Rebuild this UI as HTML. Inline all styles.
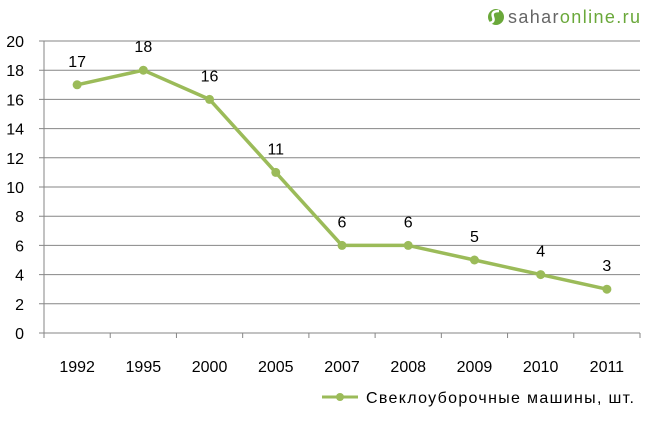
<!DOCTYPE html>
<html><head><meta charset="utf-8"><style>
body{margin:0;background:#fff;width:650px;height:418px;overflow:hidden;font-family:"Liberation Sans",sans-serif}
</style></head><body>
<svg width="650" height="418" xmlns="http://www.w3.org/2000/svg">
<g>
<circle cx="496" cy="17" r="8" fill="#6aa83a"/>
<path d="M499 11 Q491 11 493 17 Q495 22 490 23" stroke="#fff" stroke-width="2.5" fill="none"/>
<text x="508" y="23" font-size="18" fill="#666" textLength="132">sahar<tspan fill="#6aa83a">online.ru</tspan></text>
</g>
<g id="grid"></g><g id="axes"></g><g id="series"></g>
<g>
<line x1="322" y1="397" x2="358" y2="397" stroke="#9bbb59" stroke-width="3"/>
<circle cx="340" cy="397" r="4" fill="#9bbb59"/>
<text x="366" y="403" font-size="16" fill="#000" textLength="268">Свеклоуборочные машины, шт.</text>
</g>
</svg>
<script>
const categories=["1992","1995","2000","2005","2007","2008","2009","2010","2011"];
const values=[17,18,16,11,6,6,5,4,3];
const yTicks=[0,2,4,6,8,10,12,14,16,18,20];
const NS="http://www.w3.org/2000/svg";
const pLeft=44,pRight=640,pTop=41,pBottom=333,ymax=20;
const band=(pRight-pLeft)/categories.length;
const xs=i=>pLeft+band*(i+0.5);
const ys=v=>pBottom-(pBottom-pTop)*v/ymax;
function mk(tag,attrs,parent,txt){const e=document.createElementNS(NS,tag);for(const k in attrs)e.setAttribute(k,attrs[k]);if(txt!==undefined)e.textContent=txt;document.getElementById(parent).appendChild(e);return e;}
yTicks.forEach(t=>{
 const l=mk('line',{x1:pLeft-5,x2:pRight,y1:ys(t),y2:ys(t),stroke:'#868686','stroke-width':1},'grid');
 
 
 const tx=mk('text',{x:24,y:ys(t)+6,'font-size':16,'text-anchor':'end',fill:'#000'},'axes',t);
 
 
});
const ya=mk('line',{x1:pLeft,x2:pLeft,y1:pTop,y2:pBottom+5,stroke:'#868686'},'axes');


for(let i=0;i<=categories.length;i++){const tk=mk('line',{x1:pLeft+band*i,x2:pLeft+band*i,y1:pBottom,y2:pBottom+5,stroke:'#868686'},'axes');
 
 }
categories.forEach((c,i)=>{const t=mk('text',{x:xs(i),y:372,'font-size':16,'text-anchor':'middle',fill:'#000'},'axes',c);
 
 });
const pl=mk('polyline',{points:values.map((v,i)=>xs(i)+','+ys(v)).join(' '),fill:'none',stroke:'#9bbb59','stroke-width':3.5,'stroke-linejoin':'round'},'series');


values.forEach((v,i)=>{
 const c=mk('circle',{cx:xs(i),cy:ys(v),r:4.5,fill:'#9bbb59'},'series');
 
 
 const t=mk('text',{x:xs(i),y:ys(v)-18,'font-size':16,'text-anchor':'middle',fill:'#000'},'series',v);
 
 
});
</script>
</body></html>
